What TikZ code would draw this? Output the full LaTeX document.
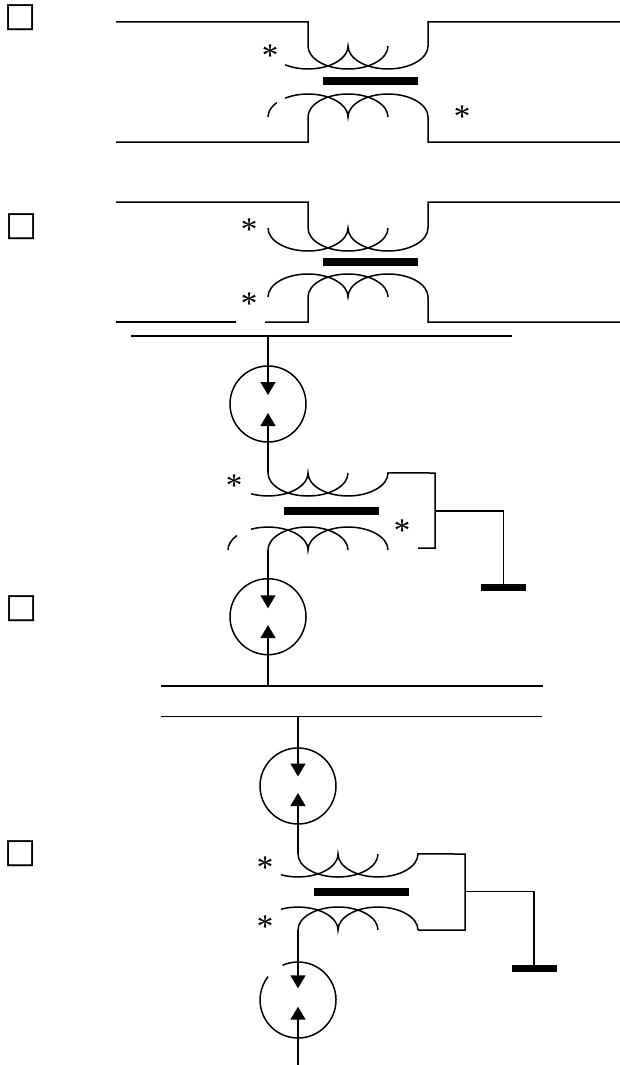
\documentclass[tikz,border=0pt]{standalone}
\usepackage{fontspec}
\setmainfont{Liberation Serif}
\newfontfamily\squarefont{DejaVu Sans}
\usetikzlibrary{positioning,calc,arrows.meta}
\tikzset{
  wire/.style = {line width=1.5pt},
  turn/.style = {x radius=40, y radius=23},
  flow/.style = {wire, -{Triangle[length=13pt,width=15pt]}},
  core/.style = {fill, inner sep=0pt, minimum width=95pt, minimum height=8pt},
  earth/.style = {fill, inner sep=0pt, minimum width=45pt, minimum height=6.5pt},
  source/.style = {circle, wire, inner sep=0pt, minimum size=76pt},
  polarity/.style = {inner sep=0pt, font=\fontsize{33}{33}\selectfont},
  optbox/.style = {inner sep=0pt, font=\squarefont\fontsize{34}{34}\selectfont},
}
\begin{document}
\begin{tikzpicture}[x=1pt, y=-1pt]
    \useasboundingbox (0,0) rectangle (620,1065);
    \node[optbox] (qa) at (21,18) {□};
    \node[optbox] (qb) at (21.5,227) {□};
    \node[optbox] (qc) at (21.5,609) {□};
    \node[optbox] (qd) at (21,854) {□};

    \coordinate (la1) at (116,22);
    \coordinate (ra1) at (620,22);
    \coordinate (la2) at (116,142);
    \coordinate (ra2) at (620,142);
    \coordinate (ta) at (308,46);
    \coordinate (ba) at (308,117);
    \node[core] (ca) at (370.5,81) {};
    \node[polarity] (pa1) at (270,56) {*};
    \node[polarity] (pa2) at (462,117) {*};
    \draw[wire] (la1) -| (ta) arc[turn, start angle=180, end angle=0];
    \draw[wire] ($(ta)+(-22.9,18.8)$) arc[turn, start angle=125, end angle=0]
      arc[turn, start angle=180, end angle=0] |- (ra1);
    \draw[wire] (la2) -| (ba) arc[turn, start angle=180, end angle=360];
    \draw[wire] ($(ba)+(-40,0)$) arc[turn, start angle=180, end angle=219];
    \draw[wire] ($(ba)+(-22.9,-18.8)$) arc[turn, start angle=235, end angle=360]
      arc[turn, start angle=180, end angle=360] |- (ra2);

    \coordinate (lb1) at (116,202);
    \coordinate (rb1) at (620,202);
    \coordinate (lb2) at (116,322);
    \coordinate (mb2) at (236,322);
    \coordinate (nb2) at (265,322);
    \coordinate (rb2) at (620,322);
    \coordinate (tb) at (308,228);
    \coordinate (bb) at (308,297);
    \node[core] (cb) at (370.5,262) {};
    \node[polarity] (pb1) at (249,229.5) {*};
    \node[polarity] (pb2) at (249,304) {*};
    \draw[wire] (lb1) -| (tb) arc[turn, start angle=180, end angle=0];
    \draw[wire] ($(tb)+(-40,0)$) arc[turn, start angle=180, end angle=0]
      arc[turn, start angle=180, end angle=0] |- (rb1);
    \draw[wire] (lb2) -- (mb2);
    \draw[wire] (nb2) -| (bb) arc[turn, start angle=180, end angle=360];
    \draw[wire] ($(bb)+(-40,0)$) arc[turn, start angle=180, end angle=360]
      arc[turn, start angle=180, end angle=360] |- (rb2);

    \coordinate (lc1) at (131,336);
    \coordinate (rc1) at (512,336);
    \coordinate (lc2) at (161,686);
    \coordinate (rc2) at (542.7,686);
    \coordinate (tc) at (268,473);
    \coordinate (bc) at (268,550);
    \coordinate (jc) at (435,511);
    \node[source, draw] (sc1) at (268,404) {};
    \node[source, draw] (sc2) at (268,616.7) {};
    \node[core] (cc) at (331.2,511.2) {};
    \node[earth] (ec) at (503.5,587.3) {};
    \node[polarity] (pc1) at (234,485.7) {*};
    \node[polarity] (pc2) at (402,530.7) {*};
    \draw[wire] (lc1) -- (rc1);
    \draw[flow] (sc1 |- lc1) -- ($(sc1)+(0,-9)$);
    \draw[flow] (tc) -- ($(sc1)+(0,9)$);
    \draw[wire] (tc) arc[turn, start angle=180, end angle=0];
    \draw[wire] ($(tc)+(-16.9,20.8)$) arc[turn, start angle=115, end angle=0]
      arc[turn, start angle=180, end angle=0] -- (jc |- tc) |- (418,548);
    \draw[wire] (bc) arc[turn, start angle=180, end angle=360];
    \draw[wire] ($(bc)+(-40,0)$) arc[turn, start angle=180, end angle=219];
    \draw[wire] ($(bc)+(-16.9,-20.8)$) arc[turn, start angle=245, end angle=360]
      arc[turn, start angle=180, end angle=360];
    \draw[wire] (jc) -| (ec.north);
    \draw[flow] (bc) -- ($(sc2)+(0,-8.4)$);
    \draw[flow] (sc2 |- lc2) -- ($(sc2)+(0,8.4)$);
    \draw[wire] (lc2) -- (rc2);

    \coordinate (ld1) at (161,716.7);
    \coordinate (rd1) at (542.3,716.7);
    \coordinate (ld2) at (298,1065);
    \coordinate (td) at (298,854);
    \coordinate (bd) at (298,930);
    \coordinate (jd) at (465,891.7);
    \node[source, draw] (sd1) at (298,786) {};
    \node[source] (sd2) at (298,1000) {};
    \node[core] (cd) at (361.7,892) {};
    \node[earth] (ed) at (534.2,968.3) {};
    \node[polarity] (pd1) at (265,867.3) {*};
    \node[polarity] (pd2) at (265,926.7) {*};
    \draw[wire] (ld1) -- (rd1);
    \draw[flow] (sd1 |- ld1) -- ($(sd1)+(0,-9.5)$);
    \draw[flow] (td) -- ($(sd1)+(0,7)$);
    \draw[wire] (td) arc[turn, start angle=180, end angle=0];
    \draw[wire] ($(td)+(-16.9,20.8)$) arc[turn, start angle=115, end angle=0]
      arc[turn, start angle=180, end angle=0] -- (jd |- td) |- (418,930);
    \draw[wire] (bd) arc[turn, start angle=180, end angle=360];
    \draw[wire] ($(bd)+(-16.9,-20.8)$) arc[turn, start angle=245, end angle=360]
      arc[turn, start angle=180, end angle=360];
    \draw[wire] (jd) -| (ed.north);
    \draw[wire] ($(sd2)+(246:38)$) arc[start angle=246, end angle=578, radius=38];
    \draw[flow] (bd) -- ($(sd2)+(0,-11.7)$);
    \draw[flow] (ld2) -- ($(sd2)+(0,6.7)$);
\end{tikzpicture}
\end{document}
